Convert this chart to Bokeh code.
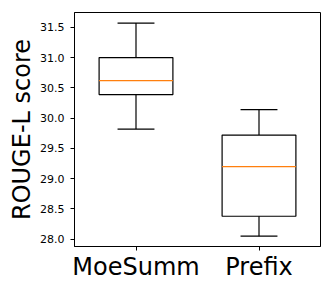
from bokeh.plotting import figure
from bokeh.models import ColumnDataSource, Range1d, FixedTicker, FactorRange
from bokeh.transform import dodge
from bokeh.embed import file_html
from bokeh.resources import INLINE

categories = ["MoeSumm", "Prefix"]
whisker_low = [29.82, 28.05]
q1 = [30.39, 28.38]
median = [30.62, 29.20]
q3 = [31.00, 29.72]
whisker_high = [31.57, 30.14]
y_ticks = [28.0, 28.5, 29.0, 29.5, 30.0, 30.5, 31.0, 31.5]
y_tick_labels = ["28.0", "28.5", "29.0", "29.5", "30.0", "30.5", "31.0", "31.5"]

src = ColumnDataSource(dict(cat=categories, lo=whisker_low, q1=q1, med=median, q3=q3, hi=whisker_high))

p = figure(width=324, height=283, x_range=FactorRange(factors=categories, range_padding=0),
           y_range=Range1d(27.88, 31.745), output_backend="svg", toolbar_location=None,
           min_border_left=74, min_border_right=4, min_border_top=12, min_border_bottom=36)
p.xgrid.visible = False
p.ygrid.visible = False
p.outline_line_color = "black"
p.outline_line_width = 1
p.background_fill_color = "white"
p.border_fill_color = "white"

font = "DejaVu Sans"
for ax in (p.xaxis, p.yaxis):
    ax.axis_line_color = "black"
    ax.major_tick_line_color = "black"
    ax.major_tick_out = 4
    ax.major_tick_in = 0
    ax.minor_tick_line_color = None
    ax.major_label_text_font = font
    ax.major_label_text_color = "black"
    ax.axis_label_text_font = font
    ax.axis_label_text_font_style = "normal"
    ax.axis_label_text_color = "black"

p.yaxis.ticker = FixedTicker(ticks=y_ticks)
p.yaxis.major_label_overrides = {t: s for t, s in zip(y_ticks, y_tick_labels)}
p.yaxis.major_label_text_font_size = "11px"
p.yaxis.major_label_standoff = 6
p.yaxis.axis_label = "ROUGE-L score"
p.yaxis.axis_label_text_font_size = "24px"
p.yaxis.axis_label_standoff = 1

p.xaxis.major_label_text_font_size = "24px"
p.xaxis.major_label_standoff = 2

# boxes
p.vbar(x="cat", top="q3", bottom="q1", width=0.6, source=src,
       fill_color="white", line_color="black", line_width=1.2)
# whiskers
p.segment(x0="cat", x1="cat", y0="q3", y1="hi", source=src, line_color="black", line_width=1.2)
p.segment(x0="cat", x1="cat", y0="q1", y1="lo", source=src, line_color="black", line_width=1.2)
# caps
p.segment(x0=dodge("cat", -0.15, range=p.x_range), x1=dodge("cat", 0.15, range=p.x_range),
          y0="hi", y1="hi", source=src, line_color="black", line_width=1.2)
p.segment(x0=dodge("cat", -0.15, range=p.x_range), x1=dodge("cat", 0.15, range=p.x_range),
          y0="lo", y1="lo", source=src, line_color="black", line_width=1.2)
# medians
p.segment(x0=dodge("cat", -0.3, range=p.x_range), x1=dodge("cat", 0.3, range=p.x_range),
          y0="med", y1="med", source=src, line_color="#ff7f0e", line_width=1.2)

open("out.html", "w").write(file_html(p, INLINE))
